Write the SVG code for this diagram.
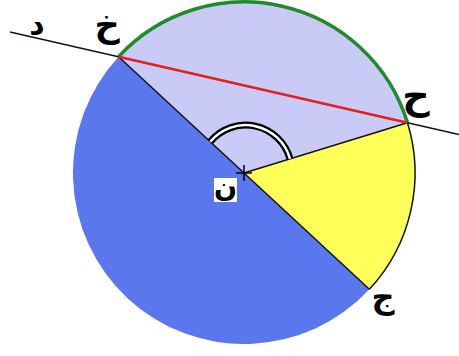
<svg xmlns="http://www.w3.org/2000/svg" width="459" height="356" viewBox="0 0 459 356">
<style>
.lbl{font-family:"DejaVu Sans",sans-serif;fill:#000;text-anchor:middle;font-weight:bold}
.thin{stroke:#111;stroke-width:1.5;fill:none}
</style>
<rect width="459" height="356" fill="#fff"/>
<g id="regions">
<path id="blue" d="M118.6 56.7 A171 171 0 0 0 369.4 289.3 Z" fill="#5b77ee"/>
<path id="lavender" d="M244 173 L118.6 56.7 A171 171 0 0 1 407.5 122.8 Z" fill="#cacaf6"/>
<path id="yellow" d="M244 173 L407.5 122.8 A171 171 0 0 1 369.4 289.3 Z" fill="#ffff5a"/>
</g>
<g id="connectors">
<path d="M407.5 122.8 A171 171 0 0 1 369.4 289.3" class="thin" stroke-width="1.2"/>
<path d="M118.6 56.7 A171 171 0 0 1 407.5 122.8" fill="none" stroke="#1f8a2e" stroke-width="3.5"/>
<line x1="10" y1="31.9" x2="459" y2="134.6" class="thin" stroke-width="1.3"/>
<line x1="118.6" y1="56.7" x2="369.4" y2="289.3" class="thin"/>
<line x1="244" y1="173" x2="407.5" y2="122.8" class="thin"/>
<line x1="118.6" y1="56.7" x2="407.5" y2="122.8" stroke="#e52222" stroke-width="2.5"/>
<path d="M290 158.9 A46 46 0 0 0 210.3 141.7" fill="none" stroke="#000" stroke-width="7"/>
<path d="M290 158.9 A46 46 0 0 0 210.3 141.7" fill="none" stroke="#fff" stroke-width="2.5"/>
<path d="M236 173 H252 M244 165 V181" stroke="#000" stroke-width="1.5"/>
</g>
<g id="node-kha"><text class="lbl" x="107" y="36" font-size="35">خ</text></g>
<g id="node-ha"><text class="lbl" x="416" y="109" font-size="38">ح</text></g>
<g id="node-jim"><text class="lbl" x="383" y="308" font-size="32">ج</text></g>
<g id="node-dal"><text class="lbl" x="37" y="34" font-size="30">د</text></g>
<g id="node-nun"><rect x="214" y="178" width="23" height="24" fill="#fff"/><text class="lbl" x="225.5" y="197" font-size="27">ن</text></g>
</svg>
